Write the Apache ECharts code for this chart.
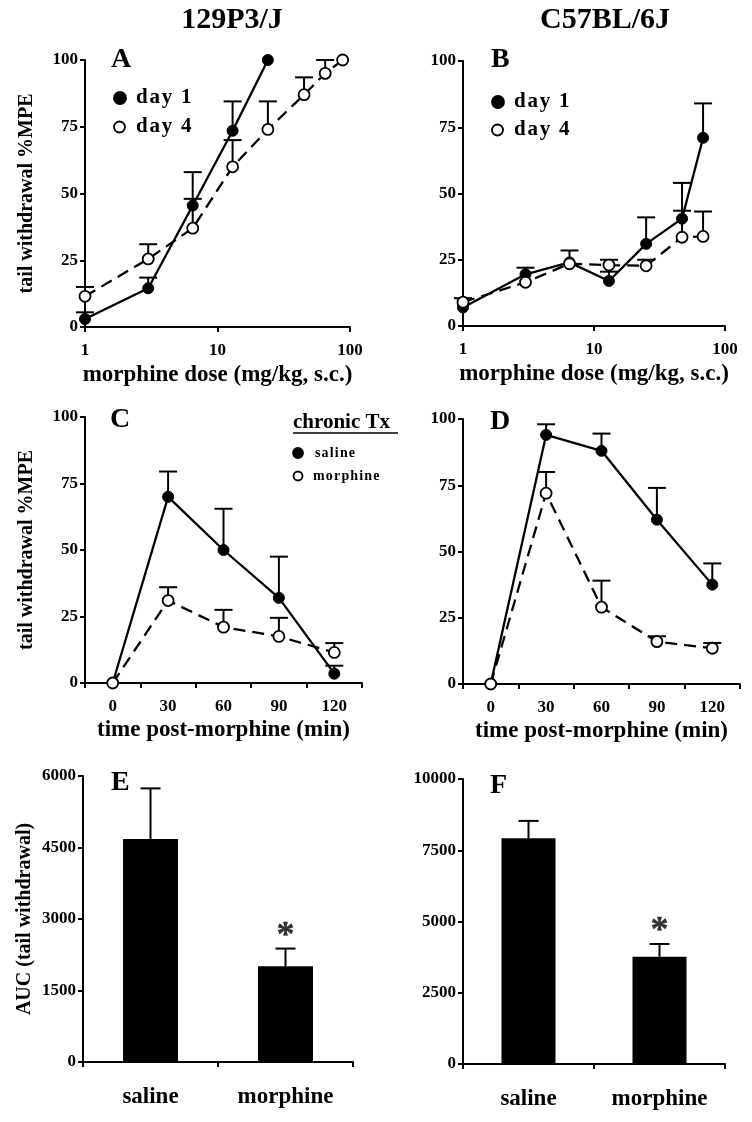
<!DOCTYPE html>
<html>
<head>
<meta charset="utf-8">
<script src="https://cdn.jsdelivr.net/npm/echarts@6/dist/echarts.min.js"></script>
<style>html,body{margin:0;padding:0;background:#fff}#c{width:752px;height:1122px}</style>
</head>
<body>
<div id="c"></div>
<script>
// ---------- DATA ----------
// Panel A: 129P3/J dose-response
const doseA1 = [1, 3, 6.5, 13, 24];
const mpeA1 = [3, 14.5, 45.5, 73.5, 100];
const topA1 = [5.5, 18.5, 58, 84.5, null];
const doseA4 = [1, 3, 6.5, 13, 24, 45, 65, 88];
const mpeA4 = [11.5, 25.5, 37, 60, 74, 87, 95, 100];
const topA4 = [15, 31, 48, 70, 84.5, 93.5, 100, null];
// Panel B: C57BL/6J dose-response
const doseB = [1, 3, 6.5, 13, 25, 47, 68];
const mpeB1 = [7, 19.5, 24, 17, 31, 40.5, 71];
const topB1 = [null, 22, 28.5, 20.5, 41, 54, 84];
const mpeB4 = [9, 16.5, 23.5, 23, 22.7, 33.5, 33.8];
const topB4 = [10.5, null, null, 25, 25, 43.5, 43.2];
// Panels C, D: time course
const timeCats = ['0', '30', '60', '90', '120'];
const mpeCsal = [0, 70, 50, 32, 3.5];
const topCsal = [null, 79.5, 65.5, 47.5, 6.5];
const mpeCmor = [0, 31, 21, 17.5, 11.5];
const topCmor = [null, 36, 27.5, 24.5, 15];
const mpeDsal = [0, 94, 88, 62, 37.5];
const topDsal = [null, 98, 94.5, 74, 45.5];
const mpeDmor = [0, 72, 29, 16, 13.5];
const topDmor = [null, 80, 39, 18, 15.5];
// Panels E, F: AUC
const txCats = ['saline', 'morphine'];
const aucE = [4680, 2010];
const topE = [5740, 2380];
const aucF = [7920, 3760];
const topF = [8530, 4210];
const sigE = ['', '*'];
const sigF = ['', '*'];

// ---------- STYLE HELPERS ----------
const FONT = 'Liberation Serif';
const BLK = '#000';
const axLine = { show: true, onZero: false, lineStyle: { color: BLK, width: 2 } };
const axTick = { show: true, length: 5, lineStyle: { color: BLK, width: 2 } };
const lbl = (size, margin) => ({ color: BLK, fontFamily: FONT, fontWeight: 'bold', fontSize: size, margin: margin, formatter: (v) => String(v) });
const nameStyle = (size) => ({ color: BLK, fontFamily: FONT, fontWeight: 'bold', fontSize: size });

function logX(idx) {
  return {
    type: 'log', logBase: 10, min: 1, max: 100, gridIndex: idx,
    axisLine: axLine, axisTick: axTick, axisLabel: lbl(17, 15),
    splitLine: { show: false }, minorTick: { show: false },
    name: 'morphine dose (mg/kg, s.c.)', nameLocation: 'middle', nameGap: 37,
    nameTextStyle: nameStyle(23)
  };
}
function catX(idx, cats, name, labelSize, margin, gap) {
  return {
    type: 'category', data: cats, boundaryGap: true, gridIndex: idx,
    axisLine: axLine, axisTick: Object.assign({ alignWithLabel: false }, axTick),
    axisLabel: lbl(labelSize, margin), splitLine: { show: false },
    name: name, nameLocation: 'middle', nameGap: gap, nameTextStyle: nameStyle(23)
  };
}
function valY(idx, max, interval, name) {
  return {
    type: 'value', min: 0, max: max, interval: interval, gridIndex: idx,
    axisLine: axLine, axisTick: axTick, axisLabel: lbl(17, 7), splitLine: { show: false },
    name: name, nameLocation: 'middle', nameGap: name ? 48 : 0, nameRotate: 90,
    nameTextStyle: nameStyle(20)
  };
}

function errRender(capHalf) {
  return function (params, api) {
    const x = api.value(0), y = api.value(1), e = api.value(2);
    const p0 = api.coord([x, y]);
    const p1 = api.coord([x, e]);
    return {
      type: 'group',
      children: [
        { type: 'line', shape: { x1: p0[0], y1: p0[1], x2: p1[0], y2: p1[1] }, style: { stroke: BLK, lineWidth: 2 } },
        { type: 'line', shape: { x1: p1[0] - capHalf, y1: p1[1], x2: p1[0] + capHalf, y2: p1[1] }, style: { stroke: BLK, lineWidth: 2 } }
      ]
    };
  };
}
function errSeries(ax, xs, ys, tops, capHalf) {
  const d = [];
  xs.forEach((x, i) => { if (tops[i] != null) d.push([x, ys[i], tops[i]]); });
  return { type: 'custom', xAxisIndex: ax, yAxisIndex: ax, renderItem: errRender(capHalf), data: d, z: 1, clip: false, silent: true };
}
function lineSeries(ax, xs, ys, filled) {
  return {
    type: 'line', xAxisIndex: ax, yAxisIndex: ax, clip: false, z: filled ? 3 : 4,
    data: xs.map((x, i) => [x, ys[i]]),
    symbol: 'circle', symbolSize: 11, showSymbol: true,
    itemStyle: filled ? { color: BLK, borderColor: BLK, borderWidth: 1 } : { color: '#fff', borderColor: BLK, borderWidth: 1.8 },
    lineStyle: { color: BLK, width: 2.3, type: filled ? 'solid' : [12, 7] }
  };
}
const idx5 = timeCats.map((c, i) => i);
const idx2 = txCats.map((c, i) => i);

function sigSeries(ax, tops, sig) {
  return {
    type: 'scatter', xAxisIndex: ax, yAxisIndex: ax, symbolSize: 0, silent: true,
    data: tops.map((t, i) => ({ value: [i, t], label: { show: !!sig[i], formatter: sig[i] } })),
    label: { position: 'top', distance: -6, color: BLK, fontFamily: FONT, fontWeight: 'bold', fontSize: 36, textBorderColor: BLK, textBorderWidth: 0.4 }
  };
}

// ---------- GRAPHIC (titles, letters, legends) ----------
function txt(x, y, s, size, align) {
  return { type: 'text', x: x, y: y, style: { text: s, fill: BLK, font: 'bold ' + size + 'px "' + FONT + '"', textAlign: align || 'left', textVerticalAlign: 'middle' } };
}
function dot(x, y, r, filled) {
  return { type: 'circle', shape: { cx: x, cy: y, r: r }, style: { fill: filled ? BLK : '#fff', stroke: BLK, lineWidth: 1.8 } };
}
const HS = '\u200A';
const spaced = (s) => s.split('').join(HS);
const graphics = [
  txt(232, 20, '129P3/J', 30, 'center'),
  txt(605, 20, 'C57BL/6J', 30, 'center'),
  txt(111, 60, 'A', 28), txt(491, 60, 'B', 28),
  txt(110, 420, 'C', 28), txt(490, 422, 'D', 28),
  txt(111, 783, 'E', 28), txt(490, 786, 'F', 28),
  dot(120, 98, 6, true), txt(136, 98, spaced('day 1'), 21),
  dot(119.5, 127, 5.5, false), txt(136, 127, spaced('day 4'), 21),
  dot(498, 102, 6, true), txt(514, 102, spaced('day 1'), 21),
  dot(497.5, 130, 5.5, false), txt(514, 130, spaced('day 4'), 21),
  txt(293, 423, 'chronic Tx', 21),
  { type: 'line', shape: { x1: 293, y1: 433, x2: 398, y2: 433 }, style: { stroke: BLK, lineWidth: 1.5 } },
  dot(298, 453, 5, true), txt(315, 453, spaced('saline'), 14),
  dot(298, 476, 4.5, false), txt(313, 476, spaced('morphine'), 14)
];

const option = {
  animation: false,
  backgroundColor: '#fff',
  textStyle: { fontFamily: FONT },
  grid: [
    { left: 85, top: 60, width: 265, height: 267 },
    { left: 463, top: 61, width: 262, height: 265 },
    { left: 85, top: 417, width: 277, height: 266 },
    { left: 463, top: 419, width: 277, height: 265 },
    { left: 83, top: 776, width: 270, height: 286 },
    { left: 463, top: 779, width: 262, height: 285 }
  ],
  xAxis: [
    logX(0), logX(1),
    catX(2, timeCats, 'time post-morphine (min)', 17, 15, 36),
    catX(3, timeCats, 'time post-morphine (min)', 17, 15, 36),
    catX(4, txCats, '', 23, 24, 0),
    catX(5, txCats, '', 23, 24, 0)
  ],
  yAxis: [
    valY(0, 100, 25, 'tail withdrawal %MPE'),
    valY(1, 100, 25, ''),
    valY(2, 100, 25, 'tail withdrawal %MPE'),
    valY(3, 100, 25, ''),
    valY(4, 6000, 1500, 'AUC (tail withdrawal)'),
    valY(5, 10000, 2500, '')
  ],
  series: [
    errSeries(0, doseA1, mpeA1, topA1, 9),
    errSeries(0, doseA4, mpeA4, topA4, 9),
    lineSeries(0, doseA1, mpeA1, true),
    lineSeries(0, doseA4, mpeA4, false),
    errSeries(1, doseB, mpeB1, topB1, 9),
    errSeries(1, doseB, mpeB4, topB4, 9),
    lineSeries(1, doseB, mpeB1, true),
    lineSeries(1, doseB, mpeB4, false),
    errSeries(2, idx5, mpeCsal, topCsal, 9),
    errSeries(2, idx5, mpeCmor, topCmor, 9),
    lineSeries(2, idx5, mpeCsal, true),
    lineSeries(2, idx5, mpeCmor, false),
    errSeries(3, idx5, mpeDsal, topDsal, 9),
    errSeries(3, idx5, mpeDmor, topDmor, 9),
    lineSeries(3, idx5, mpeDsal, true),
    lineSeries(3, idx5, mpeDmor, false),
    { type: 'bar', xAxisIndex: 4, yAxisIndex: 4, data: aucE, barWidth: 55, itemStyle: { color: BLK }, z: 2 },
    errSeries(4, idx2, aucE, topE, 10),
    sigSeries(4, topE, sigE),
    { type: 'bar', xAxisIndex: 5, yAxisIndex: 5, data: aucF, barWidth: 54, itemStyle: { color: BLK }, z: 2 },
    errSeries(5, idx2, aucF, topF, 10),
    sigSeries(5, topF, sigF)
  ],
  graphic: graphics
};
const chart = echarts.init(document.getElementById('c'), null, { renderer: 'canvas' });
chart.setOption(option);
</script>
</body>
</html>
